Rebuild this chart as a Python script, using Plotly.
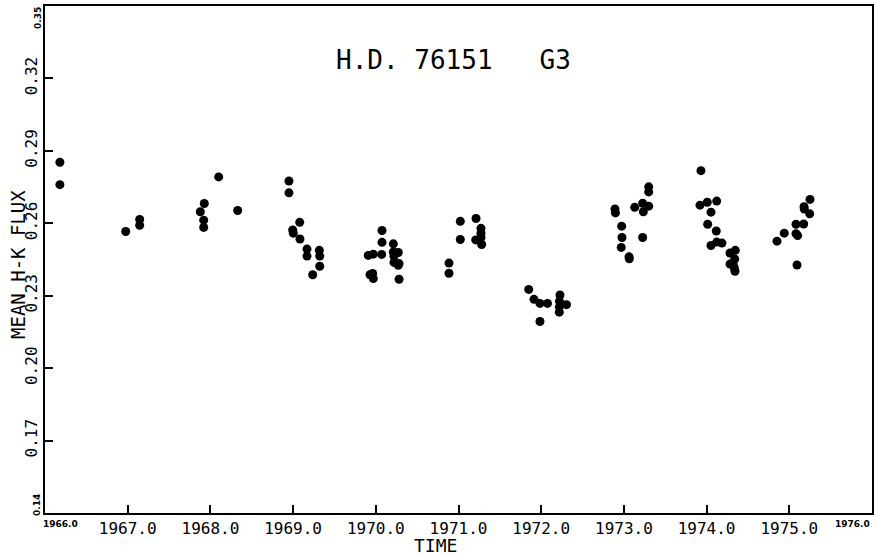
import plotly.graph_objects as go

time = [
    1966.18, 1966.18,
    1966.976, 1967.145, 1967.145,
    1967.926, 1967.878, 1967.919, 1967.919, 1968.100, 1968.330,
    1968.950, 1968.950, 1969.080, 1968.995, 1969.002, 1969.083, 1969.168, 1969.168,
    1969.317, 1969.322, 1969.322, 1969.237,
    1970.075, 1970.075, 1970.071, 1969.909, 1969.970, 1969.930, 1969.962, 1969.970,
    1970.212, 1970.212, 1970.272, 1970.220, 1970.220, 1970.281, 1970.272, 1970.281,
    1970.885, 1970.885, 1971.022, 1971.022, 1971.212, 1971.272, 1971.272, 1971.272,
    1971.208, 1971.280,
    1971.849, 1971.913, 1971.985, 1972.076, 1971.985, 1972.227, 1972.221, 1972.306,
    1972.219, 1972.219,
    1972.892, 1972.898, 1972.973, 1972.977, 1972.968, 1973.062, 1973.065, 1973.131,
    1973.227, 1973.235, 1973.300, 1973.300, 1973.300, 1973.227,
    1973.932, 1973.920, 1974.008, 1974.122, 1974.053, 1974.013, 1974.117, 1974.053,
    1974.122, 1974.186, 1974.283, 1974.347, 1974.340, 1974.283, 1974.323, 1974.337,
    1974.343,
    1974.851, 1974.939, 1975.081, 1975.174, 1975.081, 1975.101, 1975.178, 1975.181,
    1975.250, 1975.247, 1975.093,
]
flux = [
    0.2853, 0.2760,
    0.2566, 0.2616, 0.2592,
    0.2682, 0.2648, 0.2613, 0.2583, 0.2792, 0.2653,
    0.2775, 0.2726, 0.2604, 0.2572, 0.2559, 0.2535, 0.2493, 0.2464,
    0.2488, 0.2464, 0.2422, 0.2387,
    0.2570, 0.2521, 0.2471, 0.2467, 0.2472, 0.2387, 0.2392, 0.2371,
    0.2515, 0.2481, 0.2479, 0.2463, 0.2438, 0.2433, 0.2426, 0.2368,
    0.2435, 0.2393, 0.2608, 0.2533, 0.2620, 0.2579, 0.2559, 0.2541,
    0.2531, 0.2512,
    0.2326, 0.2285, 0.2268, 0.2268, 0.2193, 0.2303, 0.2277, 0.2263,
    0.2253, 0.2232,
    0.2659, 0.2643, 0.2588, 0.2541, 0.2500, 0.2461, 0.2453, 0.2666,
    0.2683, 0.2648, 0.2671, 0.2751, 0.2730, 0.2541,
    0.2818, 0.2675, 0.2687, 0.2692, 0.2646, 0.2596, 0.2568, 0.2508,
    0.2522, 0.2518, 0.2477, 0.2488, 0.2452, 0.2431, 0.2426, 0.2413,
    0.2401,
    0.2526, 0.2559, 0.2596, 0.2597, 0.2557, 0.2549, 0.2669, 0.2659,
    0.2699, 0.2639, 0.2427,
]

x_ticks = [1967.0, 1968.0, 1969.0, 1970.0, 1971.0, 1972.0, 1973.0, 1974.0, 1975.0]
x_tick_labels = ["1967.0", "1968.0", "1969.0", "1970.0", "1971.0", "1972.0", "1973.0", "1974.0", "1975.0"]
y_ticks = [0.17, 0.20, 0.23, 0.26, 0.29, 0.32]
y_tick_labels = ["0.17", "0.20", "0.23", "0.26", "0.29", "0.32"]
x_range = [1966.0, 1976.0]
y_range = [0.14, 0.35]

FONT = "DejaVu Sans Mono"

fig = go.Figure()
fig.add_trace(go.Scatter(
    x=time, y=flux, mode="markers",
    marker=dict(color="black", size=9, line=dict(width=0)),
    showlegend=False,
))

axis_common = dict(
    showgrid=False, zeroline=False, showline=True, linecolor="black", linewidth=2,
    mirror=True, ticks="inside", ticklen=8, tickwidth=2, tickcolor="black",
    tickfont=dict(family=FONT, size=16, color="black"), automargin=False,
)

fig.update_layout(
    width=874, height=555,
    margin=dict(l=45, r=2, t=6, b=42),
    paper_bgcolor="white", plot_bgcolor="white",
    xaxis=dict(range=x_range, tickvals=x_ticks, ticktext=x_tick_labels, **axis_common),
    yaxis=dict(range=y_range, tickvals=y_ticks, ticktext=y_tick_labels, tickangle=-90,
               **axis_common),
    font=dict(family=FONT, color="black"),
)

def px_x(p):
    return (p - 45) / 827

def px_y(p):
    return (513 - p) / 507

small = dict(family="DejaVu Sans", size=9, color="black", weight="bold")
ann_common = dict(xref="paper", yref="paper", showarrow=False,
                  xanchor="center", yanchor="middle")
annotations = [
    dict(text="H.D. 76151   G3", x=px_x(453), y=px_y(60),
         font=dict(family=FONT, size=26, color="black"), **ann_common),
    dict(text="TIME", x=px_x(435), y=px_y(545),
         font=dict(family=FONT, size=18, color="black"), **ann_common),
    dict(text="MEAN H-K FLUX", x=px_x(18), y=px_y(265), textangle=-90,
         font=dict(family=FONT, size=19, color="black"), **ann_common),
    dict(text="0.35", x=px_x(38), y=px_y(18), textangle=-90, font=small, **ann_common),
    dict(text="0.14", x=px_x(37), y=px_y(505), textangle=-90, font=small, **ann_common),
    dict(text="1966.0", x=px_x(60), y=px_y(524), font=small, **ann_common),
    dict(text="1976.0", x=px_x(852), y=px_y(524), font=small, **ann_common),
]
fig.update_layout(annotations=annotations)

fig.write_html(
    "out.html",
    config={"displayModeBar": False},
    post_script="document.body.style.margin='0';document.body.style.overflow='hidden';",
)
